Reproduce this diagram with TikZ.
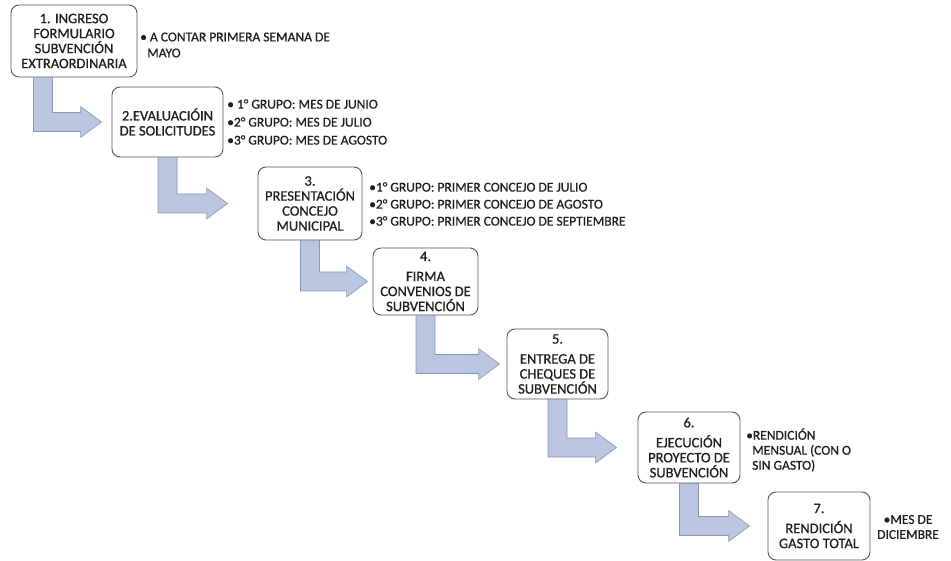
\documentclass[tikz,border=0pt]{standalone}
\usepackage{fontspec}
\setmainfont{Carlito}[FakeBold=0.7]
\usetikzlibrary{calc}
\definecolor{flechaazul}{RGB}{186,197,224}
\definecolor{flechaborde}{RGB}{138,150,182}
\definecolor{cajaborde}{RGB}{85,85,85}
\definecolor{texto}{RGB}{30,30,30}

\newcommand{\bentarrow}[4]{%
  \path[flecha] let \p1=($(#1.south)+(#2pt,0)$), \p2=($(#3.west)+(-#4pt,0)$) in
    (\x1-9.5pt,\y1) -- (\x1-9.5pt,\y2-9.5pt) -- (\x2-21pt,\y2-9.5pt)
    -- (\x2-21pt,\y2-15.5pt) -- (\x2,\y2) -- (\x2-21pt,\y2+15.5pt)
    -- (\x2-21pt,\y2+9.5pt) -- (\x1+9.5pt,\y2+9.5pt) -- (\x1+9.5pt,\y1) -- cycle;}

\begin{document}
\begin{tikzpicture}[x=1pt,y=-1pt,
	caja/.style={draw=cajaborde, line width=0.9pt, rounded corners=8pt, fill=white, align=center,
		inner sep=1pt, text=texto, font=\fontsize{14.5}{15}\selectfont},
	nota/.style={anchor=west, align=left, inner sep=0pt, text=texto, font=\fontsize{13.5}{17}\selectfont},
	flecha/.style={fill=flechaazul, draw=flechaborde, line width=0.6pt}]
	\useasboundingbox (0,0) rectangle (951,561);
	\node[caja, minimum width=126pt, minimum height=72pt] (ingreso) at (74,41) {1. INGRESO\\FORMULARIO\\SUBVENCIÓN\\EXTRAORDINARIA};
	\node[caja, minimum width=111pt, minimum height=70pt] (evaluacion) at (167.5,122) {2.EVALUACIÓIN\\DE SOLICITUDES};
	\node[caja, minimum width=104pt, minimum height=73pt] (concejo) at (310,203.5) {3.\\PRESENTACIÓN\\CONCEJO\\MUNICIPAL};
	\node[caja, minimum width=105pt, minimum height=67pt] (firma) at (425.5,281.5) {4.\\[5pt]FIRMA\\CONVENIOS DE\\SUBVENCIÓN};
	\node[caja, minimum width=101pt, minimum height=70pt] (cheques) at (557.5,364) {5.\\[5pt]ENTREGA DE\\CHEQUES DE\\SUBVENCIÓN};
	\node[caja, minimum width=102pt, minimum height=71pt] (ejecucion) at (689,447.5) {6.\\[5pt]EJECUCIÓN\\PROYECTO DE\\SUBVENCIÓN};
	\node[caja, minimum width=102pt, minimum height=68pt] (rendicion) at (819,526) {7.\\[5pt]RENDICIÓN\\GASTO TOTAL};

	\bentarrow{ingreso}{-31}{evaluacion}{10}
	\bentarrow{evaluacion}{0}{concejo}{30}
	\bentarrow{concejo}{0}{firma}{5}
	\bentarrow{firma}{0}{cheques}{7}
	\bentarrow{cheques}{0}{ejecucion}{21}
	\bentarrow{ejecucion}{0}{rendicion}{18}

	\node[nota, font=\fontsize{13.5}{16}\selectfont] (notaingreso) at (140,45) {• A CONTAR PRIMERA SEMANA DE\\\hspace{7pt}MAYO};
	\node[nota, font=\fontsize{13.5}{18}\selectfont] (notaevaluacion) at (227,122) {• 1° GRUPO: MES DE JUNIO\\•2° GRUPO: MES DE JULIO\\•3° GRUPO: MES DE AGOSTO};
	\node[nota] (notaconcejo) at (369,204) {•1° GRUPO: PRIMER CONCEJO DE JULIO\\•2° GRUPO: PRIMER CONCEJO DE AGOSTO\\•3° GRUPO: PRIMER CONCEJO DE SEPTIEMBRE};
	\node[nota, font=\fontsize{13.5}{15}\selectfont] (notaejecucion) at (746,450) {•RENDICIÓN\\\hspace{6pt}MENSUAL (CON O\\\hspace{6pt}SIN GASTO)};
	\node[nota, align=center, font=\fontsize{13.5}{15}\selectfont] (notarendicion) at (877,527) {•MES DE\\DICIEMBRE};
\end{tikzpicture}
\end{document}
